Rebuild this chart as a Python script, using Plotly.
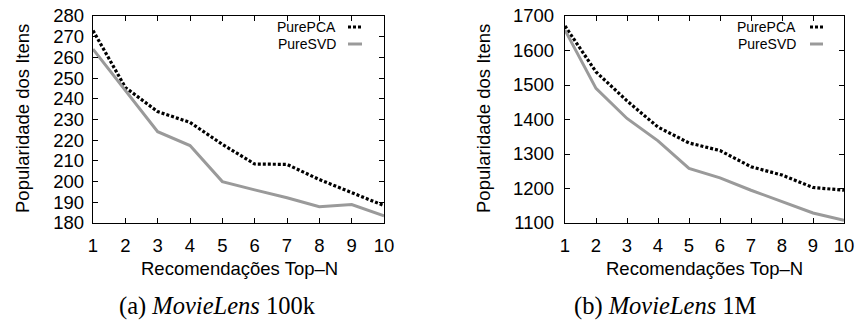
import plotly.graph_objects as go

# ---- data ----
top_n = [1, 2, 3, 4, 5, 6, 7, 8, 9, 10]

ml100k_purepca = [273.0, 245.5, 233.8, 228.6, 218.0, 208.5, 208.3, 201.0, 194.7, 188.4]
ml100k_puresvd = [264.0, 243.9, 224.1, 217.4, 200.0, 196.0, 192.2, 187.9, 188.9, 183.4]

ml1m_purepca = [1671, 1538, 1454, 1378, 1332, 1310, 1263, 1239, 1203, 1195]
ml1m_puresvd = [1659, 1490, 1403, 1338, 1258, 1231, 1195, 1163, 1129, 1108]

x_ticks = [1, 2, 3, 4, 5, 6, 7, 8, 9, 10]
y_ticks_100k = [180, 190, 200, 210, 220, 230, 240, 250, 260, 270, 280]
y_ticks_1m = [1100, 1200, 1300, 1400, 1500, 1600, 1700]

series_names = ["PurePCA", "PureSVD"]
x_title = "Recomendações Top–N"
y_title = "Popularidade dos Itens"
captions = ["(a) <i>MovieLens</i> 100k", "(b) <i>MovieLens</i> 1M"]

# ---- layout geometry (pixels) ----
W, H = 857, 327
def px(x):
    return x / W
def py(y):
    return 1 - y / H

PLOT_TOP, PLOT_BOT = 16, 223
LEFT_X = (93, 384)
RIGHT_X = (565, 844)

SANS = "Liberation Sans"
SERIF = "Liberation Serif"

pca_style = dict(color="black", width=3.2, dash="3px,2px")
svd_style = dict(color="#9a9a9a", width=3)

fig = go.Figure()
fig.add_trace(go.Scatter(x=top_n, y=ml100k_purepca, mode="lines", line=pca_style,
                         name=series_names[0], xaxis="x", yaxis="y", showlegend=False))
fig.add_trace(go.Scatter(x=top_n, y=ml100k_puresvd, mode="lines", line=svd_style,
                         name=series_names[1], xaxis="x", yaxis="y", showlegend=False))
fig.add_trace(go.Scatter(x=top_n, y=ml1m_purepca, mode="lines", line=pca_style,
                         name=series_names[0], xaxis="x2", yaxis="y2", showlegend=False))
fig.add_trace(go.Scatter(x=top_n, y=ml1m_puresvd, mode="lines", line=svd_style,
                         name=series_names[1], xaxis="x2", yaxis="y2", showlegend=False))

axis_common = dict(
    showline=True, linecolor="black", linewidth=1.2, mirror="ticks",
    ticks="inside", ticklen=5, tickwidth=1, tickcolor="black",
    showgrid=False, zeroline=False, automargin=False,
    ticklabeloverflow="allow",
    tickfont=dict(family=SANS, size=18.5, color="black"),
)

fig.update_layout(
    width=W, height=H,
    margin=dict(l=0, r=0, t=0, b=0),
    paper_bgcolor="white", plot_bgcolor="white",
    font=dict(family=SANS, color="black"),
    xaxis=dict(domain=[px(LEFT_X[0]), px(LEFT_X[1])], range=[1, 10], anchor="y",
               tickvals=x_ticks, ticklabelstandoff=6, **axis_common),
    yaxis=dict(domain=[py(PLOT_BOT), py(PLOT_TOP)], range=[180, 280], anchor="x",
               tickvals=y_ticks_100k, ticklabelstandoff=4, **axis_common),
    xaxis2=dict(domain=[px(RIGHT_X[0]), px(RIGHT_X[1])], range=[1, 10], anchor="y2",
                tickvals=x_ticks, ticklabelstandoff=6, **axis_common),
    yaxis2=dict(domain=[py(PLOT_BOT), py(PLOT_TOP)], range=[1100, 1700], anchor="x2",
                tickvals=y_ticks_1m, ticklabelstandoff=6, **axis_common),
    showlegend=False,
    hovermode=False,
)

annotations = []
shapes = []

# axis titles
for cx in [(LEFT_X[0] + LEFT_X[1]) / 2 + 1, (RIGHT_X[0] + RIGHT_X[1]) / 2]:
    annotations.append(dict(text=x_title, x=px(cx), y=py(268), xref="paper", yref="paper",
                            xanchor="center", yanchor="middle", showarrow=False,
                            font=dict(family=SANS, size=18.5, color="black")))
for cx in [22, 483]:
    annotations.append(dict(text=y_title, x=px(cx), y=py(119), xref="paper", yref="paper",
                            xanchor="center", yanchor="middle", showarrow=False, textangle=-90,
                            font=dict(family=SANS, size=18.5, color="black")))
# captions
for cx, cap in zip([217, 665], captions):
    annotations.append(dict(text=cap, x=px(cx), y=py(306), xref="paper", yref="paper",
                            xanchor="center", yanchor="middle", showarrow=False,
                            font=dict(family=SERIF, size=24.5, color="black")))

# legends (gnuplot style: text then sample)
for text_right, sample in [(338, (348, 362)), (798, (810, 823))]:
    for i, (name, style) in enumerate(zip(series_names, [pca_style, svd_style])):
        yy = 27 + i * 17
        annotations.append(dict(text=name, x=px(text_right), y=py(yy), xref="paper", yref="paper",
                                xanchor="right", yanchor="middle", showarrow=False,
                                font=dict(family=SANS, size=14, color="black")))
        shapes.append(dict(type="line", xref="paper", yref="paper",
                           x0=px(sample[0]), x1=px(sample[1]), y0=py(yy), y1=py(yy),
                           line=dict(color=style["color"], width=style["width"],
                                     dash=style.get("dash", "solid"))))

fig.update_layout(annotations=annotations, shapes=shapes)
fig.write_html("out.html",
               config={"displayModeBar": False, "staticPlot": True},
               post_script="document.body.style.margin='0';document.body.style.overflow='hidden';")
